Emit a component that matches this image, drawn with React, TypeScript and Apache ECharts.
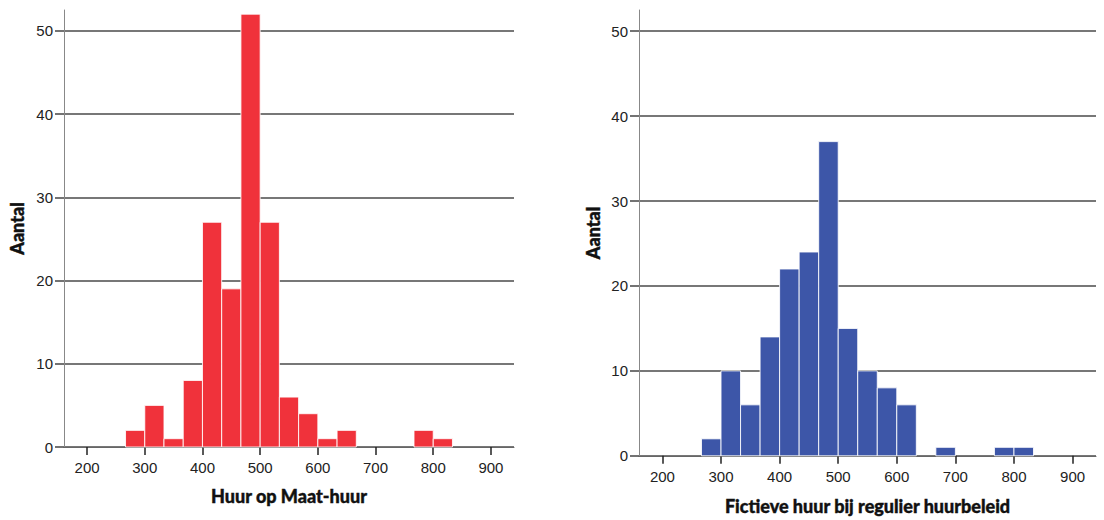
import React, { useEffect, useRef } from "react";
import * as echarts from "echarts";

// Histogram bins (lower and upper edges, in euro)
const binLow = [266.67, 300, 333.33, 366.67, 400, 433.33, 466.67, 500, 533.33, 566.67, 600, 633.33, 666.67, 700, 733.33, 766.67, 800];
const binHigh = [300, 333.33, 366.67, 400, 433.33, 466.67, 500, 533.33, 566.67, 600, 633.33, 666.67, 700, 733.33, 766.67, 800, 833.33];

// Counts per bin
const maatHuur = [2, 5, 1, 8, 27, 19, 52, 27, 6, 4, 1, 2, 0, 0, 0, 2, 1];
const fictieveHuur = [2, 10, 6, 14, 22, 24, 37, 15, 10, 8, 6, 0, 1, 0, 0, 1, 1];

// Tick labels
const xTicks = [200, 300, 400, 500, 600, 700, 800, 900];
const yTicks = [0, 10, 20, 30, 40, 50];

const titleFont = 'Lato, "Liberation Sans", Arial, sans-serif';
const labelFont = '"Liberation Sans", Arial, sans-serif';

const nameStyle = {
  fontFamily: titleFont,
  fontWeight: 900,
  fontSize: 18,
  color: "#111",
  textBorderColor: "#111",
  textBorderWidth: 0.4,
};

function makeData(counts: number[]) {
  return counts.map((c, i) => [binLow[i], binHigh[i], c]);
}

function renderHist(color: string) {
  return (params: any, api: any) => {
    const x0 = api.value(0);
    const x1 = api.value(1);
    const y = api.value(2);
    if (!y) return null;
    const p0 = api.coord([x0, y]);
    const p1 = api.coord([x1, 0]);
    return {
      type: "rect",
      shape: { x: p0[0], y: p0[1], width: p1[0] - p0[0], height: p1[1] - p0[1] },
      style: { fill: color, stroke: "rgba(255,255,255,0.85)", lineWidth: 1 },
    };
  };
}

function xAxis(gridIndex: number, name: string, gap: number) {
  return {
    type: "value",
    gridIndex,
    min: 160,
    max: 940,
    name,
    nameLocation: "middle",
    nameGap: gap,
    nameTextStyle: nameStyle,
    axisLine: { show: true, lineStyle: { color: "#666", width: 1 } },
    axisTick: { show: true, customValues: xTicks, length: 8, lineStyle: { color: "#222", width: 1.5 } },
    axisLabel: { customValues: xTicks, margin: 13, fontFamily: labelFont, fontSize: 15, color: "#222" },
    splitLine: { show: false },
  };
}

function yAxis(gridIndex: number, gap: number) {
  return {
    type: "value",
    gridIndex,
    min: 0,
    max: 52.5,
    name: "Aantal",
    nameLocation: "middle",
    nameGap: gap,
    nameTextStyle: nameStyle,
    axisLine: { show: true, lineStyle: { color: "#888", width: 1 } },
    axisTick: { show: true, customValues: yTicks, length: 9, lineStyle: { color: "#444", width: 1.5 } },
    axisLabel: { customValues: yTicks, margin: 11, fontFamily: labelFont, fontSize: 15, color: "#222" },
    splitLine: { show: true, lineStyle: { color: "#4a4a4a", width: 1.5 } },
  };
}

export default function App() {
  const ref = useRef<HTMLDivElement>(null);
  useEffect(() => {
    if (!ref.current) return;
    const chart = echarts.init(ref.current, undefined, { renderer: "svg" });
    chart.setOption({
      animation: false,
      backgroundColor: "#ffffff",
      grid: [
        { left: 64, right: 590, top: 10, bottom: 73 },
        { left: 639, right: 8, top: 10, bottom: 64 },
      ],
      xAxis: [xAxis(0, "Huur op Maat-huur", 40), xAxis(1, "Fictieve huur bij regulier huurbeleid", 41)],
      yAxis: [yAxis(0, 38), yAxis(1, 37)],
      series: [
        {
          type: "custom",
          xAxisIndex: 0,
          yAxisIndex: 0,
          renderItem: renderHist("#f0323b"),
          encode: { x: [0, 1], y: 2 },
          data: makeData(maatHuur),
        },
        {
          type: "custom",
          xAxisIndex: 1,
          yAxisIndex: 1,
          renderItem: renderHist("#3d56a8"),
          encode: { x: [0, 1], y: 2 },
          data: makeData(fictieveHuur),
        },
      ],
    });
    return () => chart.dispose();
  }, []);
  return (
    <div
      ref={ref}
      style={{ position: "fixed", left: 0, top: 0, width: 1104, height: 520, background: "#fff" }}
    />
  );
}
